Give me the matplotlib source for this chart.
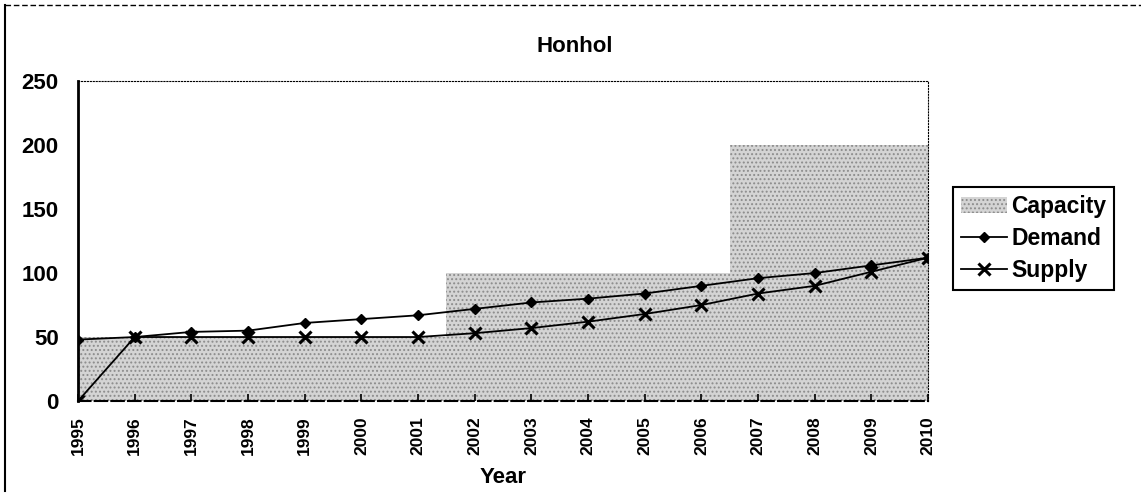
import matplotlib
matplotlib.use("Agg")
import matplotlib.pyplot as plt
from matplotlib.lines import Line2D

plt.rcParams["font.family"] = ["Liberation Sans", "DejaVu Sans"]
plt.rcParams["hatch.color"] = "#606060"
plt.rcParams["hatch.linewidth"] = 0.9

# data
years = [1995, 1996, 1997, 1998, 1999, 2000, 2001, 2002,
         2003, 2004, 2005, 2006, 2007, 2008, 2009, 2010]
capacity = [50, 50, 50, 50, 50, 50, 50, 100, 100, 100, 100, 100, 200, 200, 200, 200]
demand = [48, 50, 54, 55, 61, 64, 67, 72, 77, 80, 84, 90, 96, 100, 106, 112]
supply = [0, 50, 50, 50, 50, 50, 50, 53, 57, 62, 68, 75, 84, 90, 101, 112]

fig = plt.figure(figsize=(11.41, 4.96), dpi=100)
ax = fig.add_axes([0.0684, 0.1915, 0.745, 0.645])

ax.fill_between(years, capacity, step="mid", facecolor="#d4d4d4",
                edgecolor="#8c8c8c", hatch="....", linewidth=0, label="Capacity")
ax.plot(years, demand, color="black", lw=1.3, marker="D", ms=5, label="Demand")
ax.plot(years, supply, color="black", lw=1.3, marker="x", ms=9, mew=2.2,
        label="Supply", zorder=4)

ax.set_xlim(1995, 2010)
ax.set_ylim(0, 250)
ax.set_xticks(years)
ax.set_xticklabels([str(y) for y in years], rotation=90, fontsize=12.5,
                   fontweight="bold")
ax.set_yticks([0, 50, 100, 150, 200, 250])
ax.set_yticklabels(["0", "50", "100", "150", "200", "250"], fontsize=16,
                   fontweight="bold")
ax.tick_params(axis="y", length=0, pad=14)
ax.tick_params(axis="x", direction="in", length=5, width=1.2, pad=11)

ax.spines["left"].set_linewidth(2)
ax.spines["bottom"].set_linewidth(1.5)
ax.spines["bottom"].set_linestyle((0, (6, 2)))
ax.spines["top"].set_linewidth(0.8)
ax.spines["top"].set_linestyle(":")
ax.spines["right"].set_linewidth(0.8)
ax.spines["right"].set_linestyle(":")

ax.set_xlabel("Year", fontsize=16, fontweight="bold")
ax.xaxis.set_label_coords(0.5, -0.206)

fig.text(0.504, 0.907, "Honhol", fontsize=16, fontweight="bold",
         ha="center", va="center")

leg = ax.legend(loc="upper left", bbox_to_anchor=(0.835, 0.623),
                bbox_transform=fig.transFigure, borderaxespad=0,
                fancybox=False, edgecolor="black", framealpha=1,
                prop={"size": 16.5, "weight": "bold"}, handlelength=2.0,
                handletextpad=0.2, labelspacing=0.4, borderpad=0.35)
leg.get_frame().set_linewidth(1.5)

# outer frame of the scanned chart
fig.add_artist(Line2D([0.0045, 0.0045], [0.01, 0.99], transform=fig.transFigure,
                      color="black", lw=1.5))
fig.add_artist(Line2D([0.0045, 1.0], [0.99, 0.99], transform=fig.transFigure,
                      color="black", lw=1, linestyle=(0, (4, 2))))

fig.savefig("out.png", dpi=100)
